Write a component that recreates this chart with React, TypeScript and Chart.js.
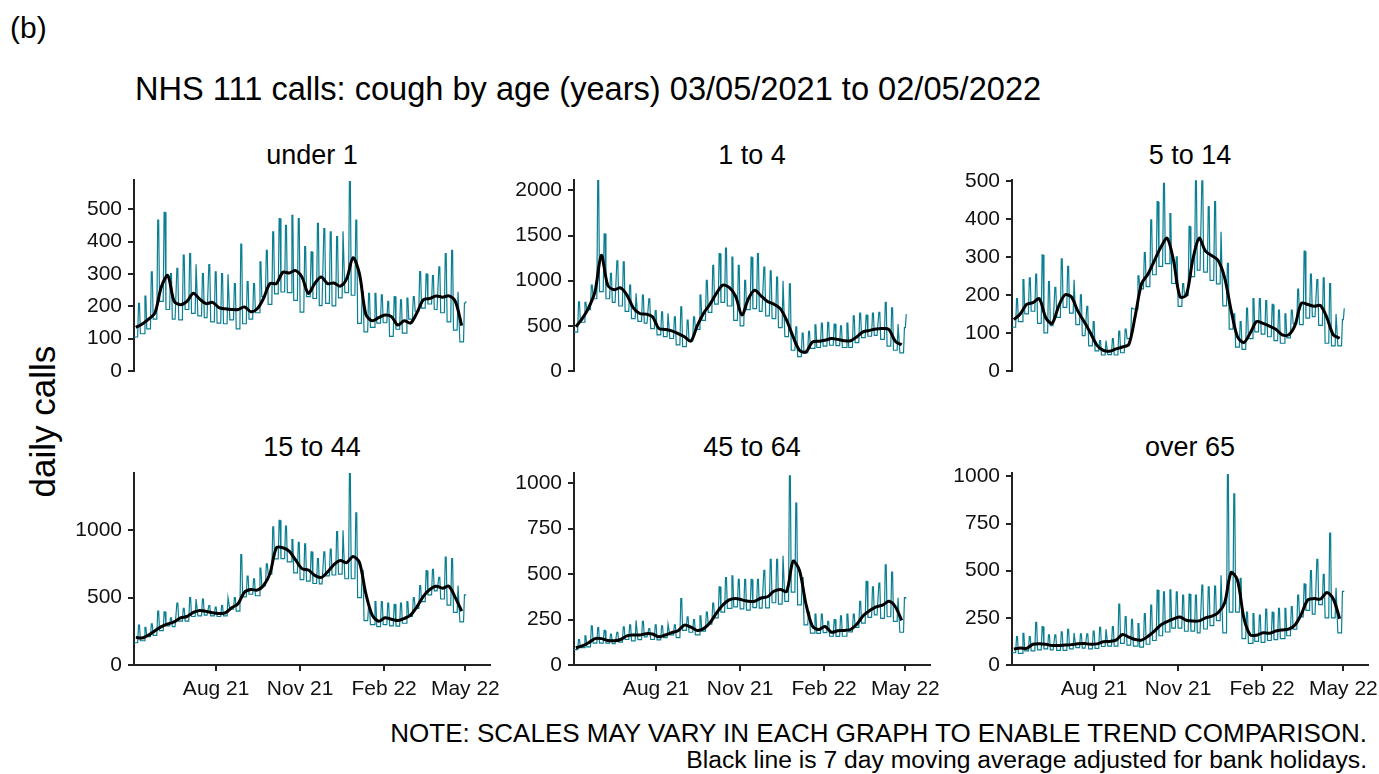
import React, { useEffect, useRef } from "react";
import { Chart, registerables } from "chart.js";

Chart.register(...registerables);

// ---------- data ----------
const panelTitles = ["under 1", "1 to 4", "5 to 14", "15 to 44", "45 to 64", "over 65"];
const xTickDays = [90, 182, 274, 363];
const xTickLabels = ["Aug 21", "Nov 21", "Feb 22", "May 22"];
const lastDay = 364;

// weekly weekend peaks (w0..w51), weekday levels (w0..w52), 7-day average (w0..w51)
const under1Peaks = [209,231,306,466,490,301,317,358,363,330,301,329,306,301,299,270,392,276,270,337,373,430,471,450,481,471,384,368,456,440,430,415,432,585,466,245,240,240,235,215,230,220,225,230,307,300,295,322,363,373,245,210];
const under1Lows = [105,115,130,160,215,190,160,158,190,178,170,165,152,148,146,158,130,146,160,180,230,206,238,244,242,218,182,230,224,202,209,201,226,242,234,147,121,135,148,149,107,129,117,160,185,194,207,190,180,152,126,90,215];
const under1Avg = [135,145,160,180,260,295,215,205,215,240,222,208,212,196,192,190,190,198,183,192,225,270,270,305,303,310,290,240,270,290,270,272,262,285,350,300,175,155,165,173,168,142,155,148,180,220,224,232,228,232,215,140];

const age1to4Peaks = [766,760,950,2110,1520,1080,1220,1210,950,860,840,800,670,655,640,600,710,565,600,840,1005,1170,1300,1360,1260,1170,1005,1260,1300,1150,1110,1040,1000,965,490,420,440,510,530,540,520,500,530,610,640,620,640,650,760,700,520,480];
const age1to4Lows = [430,540,680,800,880,800,760,720,660,580,550,530,470,400,380,360,290,270,330,460,560,650,740,760,720,560,500,680,690,660,610,580,480,380,230,160,200,250,260,275,285,280,260,260,315,370,385,395,350,275,230,200,630];
const age1to4Avg = [490,580,700,880,1280,950,900,920,840,700,637,630,600,470,460,445,415,380,330,500,640,740,860,950,925,830,620,800,895,830,770,740,690,560,380,230,210,320,330,340,360,350,335,335,380,435,450,465,470,460,330,290];

const age5to14Peaks = [190,240,245,255,305,235,220,295,275,240,200,170,130,80,80,85,105,110,165,250,311,397,445,493,414,300,230,380,500,500,432,445,366,283,150,130,165,190,190,185,175,160,150,160,215,315,255,240,245,230,150,135];
const age5to14Lows = [115,130,150,157,125,100,119,141,167,152,122,93,66,53,42,43,42,48,85,163,216,222,253,275,282,230,170,198,248,265,260,238,229,171,110,63,57,85,103,97,90,80,73,87,124,122,139,143,120,73,66,66,165];
const age5to14Avg = [135,150,175,180,190,140,125,170,200,195,158,130,100,68,54,52,58,63,70,145,230,255,290,325,349,290,195,200,292,349,315,303,290,245,160,90,75,100,130,125,118,110,95,95,120,178,175,170,172,140,95,86];

const age15to44Peaks = [296,280,305,400,395,350,460,420,500,490,490,440,430,440,500,500,820,660,640,720,750,1025,1074,1030,930,910,900,840,790,840,860,990,1000,1420,1130,700,440,470,470,460,450,460,470,500,590,700,710,650,800,790,590,520];
const age15to44Lows = [165,180,210,220,255,290,285,325,325,360,365,370,365,360,365,415,400,505,525,514,589,675,788,789,765,683,634,623,605,602,661,668,675,640,640,500,330,300,285,300,290,289,310,360,420,470,520,550,490,445,390,320,520];
const age15to44Avg = [205,200,222,255,285,305,320,350,360,390,405,398,388,383,386,425,455,540,560,556,590,680,870,870,845,780,715,705,665,650,690,745,775,760,805,760,530,370,325,350,340,330,345,370,432,510,560,585,570,585,500,400];

const age45to64Peaks = [140,160,215,205,190,170,180,210,220,245,240,200,220,215,225,220,365,265,250,270,290,340,430,480,490,470,470,470,470,520,580,580,600,1040,890,480,290,280,280,240,250,270,280,280,350,460,430,450,550,510,370,370];
const age45to64Lows = [85,95,100,120,120,120,118,126,140,133,139,155,140,138,150,165,150,190,180,165,186,225,259,290,311,319,308,302,315,313,314,342,334,350,400,330,220,175,174,178,158,157,158,182,207,230,262,275,256,265,240,180,365];
const age45to64Avg = [95,105,122,145,145,135,133,140,160,165,165,172,170,155,165,178,188,219,208,190,200,232,285,330,358,366,358,350,350,368,375,405,415,405,570,520,338,215,195,212,180,188,190,195,225,272,300,320,329,350,320,245];

const over65Peaks = [150,168,150,226,203,160,160,176,189,170,165,165,180,200,190,203,323,256,242,220,273,317,397,388,399,388,370,376,370,423,414,418,476,1010,908,459,280,273,265,296,280,300,300,310,370,430,500,560,480,700,410,390];
const over65Lows = [65,62,75,75,80,85,80,78,78,85,92,90,85,88,98,100,100,115,105,100,95,110,130,155,175,195,196,179,180,170,191,209,235,170,280,280,140,115,125,120,130,135,140,155,190,255,290,270,320,250,250,170,390];
const over65Avg = [85,90,88,110,113,110,103,104,106,108,113,114,110,112,123,125,132,162,148,135,132,152,180,212,230,245,254,237,233,234,250,259,278,330,490,450,250,160,158,171,168,180,186,190,212,270,345,352,350,385,350,245];

const yMaxes = [590, 2115, 502, 1425, 1055, 1018];
const yTicks100 = [0, 100, 200, 300, 400, 500];
const yTicks500 = [0, 500, 1000, 1500, 2000];
const yTicks15to44 = [0, 500, 1000];
const yTicks250 = [0, 250, 500, 750, 1000];

const panelPeaks = [under1Peaks, age1to4Peaks, age5to14Peaks, age15to44Peaks, age45to64Peaks, over65Peaks];
const panelLows = [under1Lows, age1to4Lows, age5to14Lows, age15to44Lows, age45to64Lows, over65Lows];
const panelAvg = [under1Avg, age1to4Avg, age5to14Avg, age15to44Avg, age45to64Avg, over65Avg];
const panelYTicks = [yTicks100, yTicks500, yTicks100, yTicks15to44, yTicks250, yTicks250];

// ---------- layout / style ----------
const FONT = "'Liberation Sans', Arial, sans-serif";
const TEAL = "#0a7f92";
const colLeft = [134, 574, 1012];
const rowTop = [180, 473];
const rowBottom = [371, 665];
const AXIS_W = 90;
const AREA_W = 356;
const PAD = 20;
const XAXIS_H = 50;

function dailySeries(lows: number[], peaks: number[]) {
  const pts: { x: number; y: number }[] = [];
  for (let d = 0; d <= lastDay; d++) {
    const w = Math.floor(d / 7);
    const k = d % 7;
    pts.push({ x: d, y: k >= 5 ? peaks[w] : lows[w] });
  }
  return pts;
}

function avgSeries(avg: number[]) {
  return avg.map((v, w) => ({ x: w * 7 + 2, y: v }));
}

function Panel({ idx }: { idx: number }) {
  const ref = useRef<HTMLCanvasElement | null>(null);
  const row = idx < 3 ? 0 : 1;
  const col = idx % 3;
  const areaH = rowBottom[row] - rowTop[row];
  const width = AXIS_W + AREA_W + PAD;
  const height = PAD + areaH + (row === 1 ? XAXIS_H : PAD);

  useEffect(() => {
    if (!ref.current) return;
    const ticks = panelYTicks[idx];
    const chart = new Chart(ref.current, {
      type: "line",
      data: {
        datasets: [
          {
            data: avgSeries(panelAvg[idx]),
            borderColor: "#000000",
            borderWidth: 3,
            pointRadius: 0,
            tension: 0.3,
            order: 0,
          },
          {
            data: dailySeries(panelLows[idx], panelPeaks[idx]),
            borderColor: TEAL,
            borderWidth: 1.2,
            pointRadius: 0,
            tension: 0,
            order: 1,
          },
        ],
      },
      options: {
        animation: false,
        responsive: false,
        maintainAspectRatio: false,
        devicePixelRatio: 1,
        layout: { padding: { top: PAD, right: PAD, bottom: row === 0 ? PAD : 0, left: 0 } },
        plugins: { legend: { display: false }, tooltip: { enabled: false }, title: { display: false } },
        scales: {
          x: {
            type: "linear",
            min: 0,
            max: 390,
            display: row === 1,
            afterBuildTicks: (s: any) => {
              s.ticks = xTickDays.map((v) => ({ value: v }));
            },
            afterFit: (s: any) => {
              if (row === 1) s.height = XAXIS_H;
            },
            grid: { display: true, drawOnChartArea: false, drawTicks: true, tickLength: 6, color: "#222", lineWidth: 2 },
            border: { display: true, color: "#222", width: 2 },
            ticks: {
              autoSkip: false,
              maxRotation: 0,
              padding: 6,
              color: "#111",
              font: { family: FONT, size: 21 },
              callback: (v: any) => {
                const i = xTickDays.indexOf(Number(v));
                return i >= 0 ? xTickLabels[i] : "";
              },
            },
          },
          y: {
            type: "linear",
            min: 0,
            max: yMaxes[idx],
            afterBuildTicks: (s: any) => {
              s.ticks = ticks.map((v) => ({ value: v }));
            },
            afterFit: (s: any) => {
              s.width = AXIS_W;
            },
            grid: { display: true, drawOnChartArea: false, drawTicks: true, tickLength: 6, color: "#222", lineWidth: 2 },
            border: { display: true, color: "#222", width: 2 },
            ticks: {
              padding: 6,
              color: "#111",
              font: { family: FONT, size: 21 },
              callback: (v: any) => String(v),
            },
          },
        },
      } as any,
    });
    return () => chart.destroy();
  }, [idx]);

  return (
    <canvas
      ref={ref}
      width={width}
      height={height}
      style={{
        position: "absolute",
        left: colLeft[col] - AXIS_W,
        top: rowTop[row] - PAD,
        width,
        height,
      }}
    />
  );
}

const textBase: React.CSSProperties = {
  position: "absolute",
  fontFamily: FONT,
  color: "#000",
  lineHeight: 1,
  whiteSpace: "nowrap",
};

export default function App() {
  const titleCenters = [312, 752, 1190];
  const titleTops = [142, 434];
  return (
    <div
      style={{
        position: "absolute",
        left: 0,
        top: 0,
        width: 1379,
        height: 774,
        background: "#fff",
        overflow: "hidden",
      }}
    >
      <div style={{ ...textBase, left: 10, top: 13, fontSize: 30 }}>(b)</div>
      <div style={{ ...textBase, left: 135, top: 73, fontSize: 32.6 }}>
        NHS 111 calls: cough by age (years) 03/05/2021 to 02/05/2022
      </div>
      {panelTitles.map((t, i) => (
        <div
          key={t}
          style={{
            ...textBase,
            left: titleCenters[i % 3] - 150,
            width: 300,
            textAlign: "center",
            top: titleTops[i < 3 ? 0 : 1],
            fontSize: 27,
          }}
        >
          {t}
        </div>
      ))}
      <div
        style={{
          ...textBase,
          left: 42 - 100,
          width: 200,
          textAlign: "center",
          top: 421 - 17,
          fontSize: 35,
          transform: "rotate(-90deg)",
        }}
      >
        daily calls
      </div>
      {[0, 1, 2, 3, 4, 5].map((i) => (
        <Panel key={i} idx={i} />
      ))}
      <div style={{ ...textBase, right: 12, top: 720, fontSize: 26, textAlign: "right" }}>
        NOTE: SCALES MAY VARY IN EACH GRAPH TO ENABLE TREND COMPARISON.
      </div>
      <div style={{ ...textBase, right: 12, top: 748, fontSize: 24.7, textAlign: "right" }}>
        Black line is 7 day moving average adjusted for bank holidays.
      </div>
    </div>
  );
}
